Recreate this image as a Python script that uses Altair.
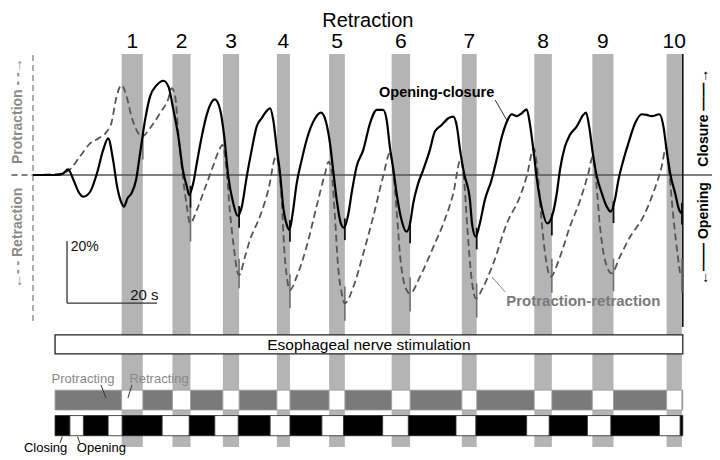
import altair as alt
import pandas as pd

# ---- data (time in s, amplitude in %) ----
bar_start = [19.7, 31.0, 42.2, 54.2, 65.8, 79.7, 95.3, 111.4, 124.3, 140.8]
bar_end = [24.4, 35.0, 45.8, 57.1, 69.3, 83.8, 98.6, 115.3, 129.0, 144.2]
bar_labels = ["1", "2", "3", "4", "5", "6", "7", "8", "9", "10"]

open_start = [8.2, 16.7, 28.7, 40.4, 52.7, 64.2, 77.7, 94.0, 109.7, 123.2, 139.2]
open_end = [11.2, 19.8, 34.7, 45.6, 57.1, 69.0, 83.4, 98.4, 114.7, 128.4, 143.8]
stim_start, stim_end = 4.9, 144.4

# event ticks at the end of each retraction (black: opening-closure, gray: protraction-retraction)
tick_black_x = [35.0, 45.8, 57.1, 69.3, 83.8, 98.6, 115.3, 129.0, 144.2]
tick_black_top = [-3.5, -10.0, -14.5, -14.0, -15.0, -17.0, -12.5, -8.5, -9.0]
tick_black_bot = [-10.5, -17.0, -21.5, -21.0, -22.0, -24.0, -19.5, -15.5, -16.0]
tick_gray_x = [24.4, 35.0, 45.8, 57.1, 69.3, 83.8, 98.6, 115.3, 129.0, 144.2]
tick_gray_top = [14.0, -10.0, -27.0, -32.0, -36.0, -33.0, -35.0, -27.0, -27.0, -27.0]
tick_gray_bot = [5.0, -21.5, -36.5, -43.0, -47.0, -44.0, -46.0, -38.0, -37.5, -38.0]

oc_t = [0, 5.3, 6.7, 7.8, 9.0, 10.1, 11.2, 12.7, 14.2, 15.6, 16.7, 17.8, 18.7, 19.7, 20.2, 21.0, 21.9,
        22.9, 23.8, 24.9, 26.0, 27.5, 29.0, 30.1, 31.2, 32.3, 33.3, 34.2, 34.7, 35.6, 36.4, 37.5, 38.6,
        40.4, 41.6, 42.5, 43.4, 44.5, 45.5, 46.4, 47.5, 48.6, 49.7, 50.8, 52.7, 53.4, 54.2, 54.9, 55.6,
        56.4, 57.0, 57.7, 58.6, 59.7, 60.8, 62.7, 64.0, 65.1, 66.0, 66.7, 67.5, 68.4, 69.1, 70.1, 70.8,
        71.9, 73.4, 74.9, 76.4, 77.8, 78.6, 79.3, 80.1, 80.8, 81.9, 83.0, 83.8, 84.5, 85.6, 86.7, 88.2,
        89.3, 90.8, 92.3, 93.4, 94.2, 94.9, 95.8, 97.1, 97.6, 98.4, 99.3, 100.4, 101.9, 103.0, 104.2,
        105.3, 106.4, 107.5, 108.6, 109.7, 110.4, 111.2, 112.1, 113.0, 114.3, 115.3, 116.4, 117.1,
        118.2, 119.3, 120.8, 122.3, 122.9, 123.6, 124.4, 125.3, 126.4, 127.5, 128.4, 129.3, 130.1,
        131.2, 132.3, 133.8, 135.3, 136.4, 137.5, 139.2, 140.1, 140.8, 141.6, 142.7, 143.6, 144.2]
oc_v = [0, 0, 0.5, 1.8, -1.6, -5.4, -7.0, -5.4, 0.5, 8.1, 11.8, 4.8, -3.8, -9.1, -10.2, -7.5, -5.9,
        -1.6, 7.0, 17.7, 25.3, 29.0, 30.4, 28.5, 21.0, 12.4, 1.6, -3.8, -6.5, -2.7, 3.8, 12.4, 19.4,
        24.4, 21.0, 12.4, -0.5, -9.1, -13.2, -10.2, -0.5, 8.1, 15.6, 18.3, 21.5, 17.7, 8.1, 0.5, -10.2,
        -16.1, -17.7, -12.4, -2.7, 4.8, 11.3, 18.3, 20.1, 17.2, 10.2, 1.6, -8.1, -15.6, -17.0, -12.4, -5.9,
        2.7, 8.1, 16.7, 21.0, 21.0, 17.7, 9.1, 1.6, -5.9, -14.5, -18.3, -15.6, -9.1, -2.7, 1.6, 8.1,
        14.0, 16.1, 18.3, 18.8, 15.6, 8.1, 0.5, -8.1, -16.1, -19.9, -15.6, -8.1, -1.6, 4.8, 12.4,
        17.2, 19.6, 19.0, 19.9, 21.2, 16.7, 8.1, -2.7, -10.2, -15.6, -13.5, -5.9, 1.6,
        9.1, 12.9, 15.6, 19.4, 20.1, 15.6, 7.0, -0.5, -5.9, -10.2, -11.8, -8.1, -1.6,
        4.8, 10.2, 16.7, 19.6, 19.4, 19.0, 19.6, 15.6, 8.1, 0.5, -5.9, -11.3, -12.4]

pr_t = [0, 6.7, 8.2, 10.4, 12.7, 14.5, 16.4, 17.5, 18.4, 19.7, 20.8, 21.9, 23.0, 24.2, 26.0, 28.2,
        30.1, 30.8, 31.6, 32.3, 33.3, 34.2, 34.9, 36.4, 37.8, 39.7, 41.2, 42.1, 43.0, 43.8, 44.7, 45.4,
        45.8, 47.1, 48.2, 50.4, 52.3, 54.0, 54.5, 55.3, 55.8, 56.4, 57.1, 58.6, 60.8, 63.0, 64.9, 65.7,
        66.4, 67.1, 67.8, 68.6, 69.3, 71.2, 73.4, 75.6, 77.8, 79.3, 80.1, 80.8, 81.6, 82.7, 83.8, 86.0,
        89.0, 91.2, 93.4, 95.0, 95.8, 96.5, 97.5, 98.4, 100.1, 102.3, 105.3, 108.2, 109.7, 111.3, 112.1,
        113.0, 114.0, 115.0, 117.1, 119.3, 121.6, 123.4, 124.4, 125.1, 126.0, 127.1, 128.6, 130.4, 132.7,
        135.6, 137.8, 139.7, 140.7, 141.4, 142.3, 143.4, 143.9]
pr_v = [0, 0.5, 1.8, 5.9, 10.2, 11.8, 14.0, 17.2, 24.2, 29.0, 25.3, 18.8, 14.5, 12.4, 15.1, 19.9,
        24.7, 28.0, 25.3, 13.5, -0.5, -10.2, -15.6, -11.3, -5.9, 1.6, 7.5, 9.7, 1.6, -12.4, -24.2, -31.2,
        -32.3, -26.4, -21.0, -13.5, -4.8, 5.9, 3.8, -9.1, -23.1, -32.8, -37.1, -32.8, -23.1, -10.2, 0.5, 4.3,
        0.5, -13.5, -29.6, -38.2, -41.4, -36.0, -25.3, -13.5, -0.5, 7.0, 0.5, -11.3, -26.4, -36.0, -38.2, -32.8,
        -23.1, -15.6, -5.9, 4.8, -1.6, -16.7, -33.9, -39.8, -36.0, -28.5, -15.6, -7.0, -0.5, 8.6, 1.6,
        -14.5, -27.4, -32.8, -26.4, -16.7, -8.1, 0.5, 5.9, -1.6, -16.7, -27.4, -31.7, -26.4, -19.9,
        -13.5, -5.9, 2.7, 8.9, 0.5, -13.5, -27.4, -32.8]

FONT = "Liberation Sans"
xs = alt.Scale(domain=[-5.556, 150.89], nice=False, zero=False)
ys = alt.Scale(domain=[-89.35, 53.87], nice=False, zero=False)


def X(f="x"):
    return alt.X(f, type="quantitative", scale=xs, axis=None)


def Y(f="y"):
    return alt.Y(f, type="quantitative", scale=ys, axis=None)


layers = []

# gray retraction bars
bars = pd.DataFrame({"x": bar_start, "x2": bar_end, "lab": bar_labels,
                     "xc": [(a + b) / 2 for a, b in zip(bar_start, bar_end)]})
bars["y"] = 39.0
bars["y2"] = -87.7
bars["yl"] = 42.9
layers.append(alt.Chart(bars).mark_rect(color="#b4b4b4").encode(x=X(), x2="x2", y=Y(), y2="y2"))

# baseline
base = pd.DataFrame({"x": [0.0], "x2": [152.0], "y": [0.0]})
layers.append(alt.Chart(base).mark_rule(color="#555555", strokeWidth=1.3).encode(x=X(), x2="x2", y=Y()))
base_d = pd.DataFrame({"x": [-7.0], "x2": [0.0], "y": [0.0]})
layers.append(alt.Chart(base_d).mark_rule(color="#555555", strokeWidth=1.3, strokeDash=[6, 4]).encode(
    x=X(), x2="x2", y=Y()))

# left dashed vertical line
ld = pd.DataFrame({"x": [0.0], "y": [38.7], "y2": [-48.4]})
layers.append(alt.Chart(ld).mark_rule(color="#777777", strokeWidth=1.2, strokeDash=[6, 4]).encode(
    x=X(), y=Y(), y2="y2"))
# right solid vertical line
rd = pd.DataFrame({"x": [144.4], "y": [39.0], "y2": [-49.0]})
layers.append(alt.Chart(rd).mark_rule(color="#111111", strokeWidth=1.6).encode(x=X(), y=Y(), y2="y2"))

# event ticks
tg = pd.DataFrame({"x": tick_gray_x, "y": tick_gray_top, "y2": tick_gray_bot})
layers.append(alt.Chart(tg).mark_rule(color="#707070", strokeWidth=1.6).encode(x=X(), y=Y(), y2="y2"))
tb = pd.DataFrame({"x": tick_black_x, "y": tick_black_top, "y2": tick_black_bot})
layers.append(alt.Chart(tb).mark_rule(color="#111111", strokeWidth=1.8).encode(x=X(), y=Y(), y2="y2"))

# traces
pr = pd.DataFrame({"x": pr_t, "y": pr_v})
layers.append(alt.Chart(pr).mark_line(color="#555555", strokeWidth=1.8, strokeDash=[7, 4],
                                      interpolate="monotone").encode(x=X(), y=Y()))
oc = pd.DataFrame({"x": oc_t, "y": oc_v})
layers.append(alt.Chart(oc).mark_line(color="#000000", strokeWidth=2.2,
                                      interpolate="monotone").encode(x=X(), y=Y()))

# scale bar
sb = pd.DataFrame({"x": [7.56, 7.56], "x2": [7.56, 27.56], "y": [-21.3, -41.3], "y2": [-41.3, -41.3]})
layers.append(alt.Chart(sb).mark_rule(color="#333333", strokeWidth=1.3).encode(
    x=X(), x2="x2", y=Y(), y2="y2"))

# stimulation box
stim = pd.DataFrame({"x": [stim_start], "x2": [stim_end], "y": [-51.6], "y2": [-57.7],
                     "xc": [(stim_start + stim_end) / 2], "yc": [-54.7],
                     "t": ["Esophageal nerve stimulation"]})
layers.append(alt.Chart(stim).mark_rect(fill="white", stroke="#222222", strokeWidth=1.3).encode(
    x=X(), x2="x2", y=Y(), y2="y2"))
layers.append(alt.Chart(stim).mark_text(font=FONT, fontSize=15.5, color="black").encode(
    x=X("xc"), y=Y("yc"), text="t"))


def row_segments(starts, ends):
    on, off = [], []
    cur = stim_start
    for a, b in zip(starts, ends):
        if a > cur:
            on.append((cur, a))
        off.append((a, min(b, stim_end)))
        cur = b
    if cur < stim_end:
        on.append((cur, stim_end))
    return on, off


def row_layer(segs, y, y2, fill, stroke):
    d = pd.DataFrame(segs, columns=["x", "x2"])
    d["y"] = y
    d["y2"] = y2
    return alt.Chart(d).mark_rect(fill=fill, stroke=stroke, strokeWidth=0.8).encode(
        x=X(), x2="x2", y=Y(), y2="y2")


# protracting / retracting row
p_on, p_off = row_segments(bar_start, bar_end)
layers.append(row_layer(p_on, -69.4, -75.8, "#7a7a7a", "#999999"))
layers.append(row_layer(p_off, -69.4, -75.8, "#ffffff", "#999999"))

# closing / opening row
c_on, c_off = row_segments(open_start, open_end)
layers.append(row_layer(c_on, -77.6, -84.1, "#000000", "#222222"))
layers.append(row_layer(c_off, -77.6, -84.1, "#ffffff", "#222222"))

# bar numbers
layers.append(alt.Chart(bars).mark_text(font=FONT, fontSize=21, color="black").encode(
    x=X("xc"), y=Y("yl"), text="lab"))

# title
title = pd.DataFrame({"x": [74.4], "y": [49.6], "t": ["Retraction"]})
layers.append(alt.Chart(title).mark_text(font=FONT, fontSize=20, color="black").encode(
    x=X(), y=Y(), text="t"))

# generic texts
texts = pd.DataFrame({
    "x": [8.4, 21.6, 89.7, 122.3, 11.1, 28.0, 2.8, 15.2],
    "y": [-23.2, -38.7, 26.5, -40.6, -65.8, -65.8, -88.1, -88.1],
    "t": ["20%", "20 s", "Opening-closure", "Protraction-retraction", "Protracting", "Retracting",
          "Closing", "Opening"],
    "c": ["#111111", "#111111", "#000000", "#7a7a7a", "#888888", "#888888", "#000000", "#000000"],
    "w": ["normal", "normal", "bold", "bold", "normal", "normal", "normal", "normal"],
    "a": ["left", "left", "center", "center", "center", "center", "center", "center"],
    "s": [14, 15, 14.5, 15, 13, 13, 13, 13],
})
for _, r in texts.iterrows():
    d = pd.DataFrame([r])
    layers.append(alt.Chart(d).mark_text(font=FONT, fontSize=float(r["s"]), color=r["c"],
                                         fontWeight=r["w"], align=r["a"]).encode(
        x=X(), y=Y(), text="t"))

# rotated side labels
side = [(-3.4, 20.6, "Protraction - -\u2192", "#8a8a8a"),
        (-3.4, -20.3, "\u2190- - Retraction", "#8a8a8a"),
        (149.1, 18.5, "Closure \u2014\u2014\u2192", "#000000"),
        (149.1, -18.9, "\u2190\u2014\u2014 Opening", "#000000")]
for sx, sy, st, sc in side:
    d = pd.DataFrame({"x": [sx], "y": [sy], "t": [st]})
    layers.append(alt.Chart(d).mark_text(font=FONT, fontSize=14, fontWeight="bold", color=sc,
                                         angle=270).encode(x=X(), y=Y(), text="t"))

# leader lines
lead_k = pd.DataFrame({
    "x": [102.7, 15.1, 22.0, 6.5, 9.9],
    "x2": [105.3, 16.2, 21.1, 6.0, 10.4],
    "y": [24.2, -67.7, -67.7, -84.4, -84.4],
    "y2": [17.7, -71.9, -71.9, -86.5, -86.5],
})
layers.append(alt.Chart(lead_k).mark_rule(strokeWidth=1, color="#333333").encode(
    x=X(), x2="x2", y=Y(), y2="y2"))
lead_g = pd.DataFrame({"x": [102.0], "x2": [104.9], "y": [-32.9], "y2": [-37.7]})
layers.append(alt.Chart(lead_g).mark_rule(strokeWidth=1, color="#888888").encode(
    x=X(), x2="x2", y=Y(), y2="y2"))

chart = alt.layer(*layers).properties(
    width=704, height=444,
    padding={"left": 0, "top": 0, "right": 0, "bottom": 6},
    autosize="none",
).configure_view(stroke=None)
chart.save("out.html", embed_options={"renderer": "svg", "actions": False})
